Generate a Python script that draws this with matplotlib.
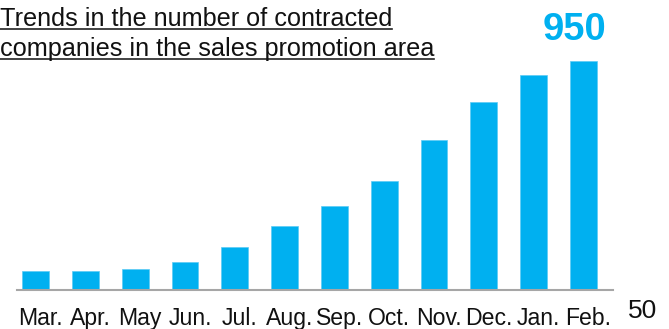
import matplotlib
matplotlib.use("Agg")
import matplotlib.pyplot as plt
import matplotlib.transforms as mtransforms
from matplotlib.lines import Line2D

plt.rcParams['font.family'] = ['Liberation Sans', 'DejaVu Sans']

months = ["Mar.", "Apr.", "May", "Jun.", "Jul.", "Aug.", "Sep.", "Oct.",
          "Nov.", "Dec.", "Jan.", "Feb."]
companies = [80, 80, 85, 115, 180, 265, 350, 450, 620, 780, 890, 950]

title_lines = ["Trends in the number of contracted",
               "companies in the sales promotion area"]
page_number = "50"

BAR_COLOR = "#00B0F0"
W, H = 669, 329

fig = plt.figure(figsize=(W / 100, H / 100), dpi=100)
ax = fig.add_axes([16.7 / W, (H - 290) / H, (613.3 - 16.7) / W, 241.4 / H])

x = list(range(len(months)))
ax.bar(x, companies, width=0.536, color=BAR_COLOR,
       edgecolor="#5ccbf5", linewidth=0.5)

ax.set_xlim(-0.38, 11.60)
ax.set_ylim(0, 1000)

for side in ["left", "right", "top"]:
    ax.spines[side].set_visible(False)
ax.spines["bottom"].set_color("#a6a6a6")
ax.spines["bottom"].set_linewidth(1.5)
ax.set_yticks([])
ax.set_xticks(x)
ax.set_xticklabels(months, fontsize=16.6, color="#111111")
ax.tick_params(axis="x", length=0, pad=12.5)
# month labels sit a little right of the bar centres
shift = mtransforms.ScaledTranslation(5 / 100, 0, fig.dpi_scale_trans)
for lbl in ax.get_xticklabels():
    lbl.set_transform(lbl.get_transform() + shift)

# highlight the latest value
ax.annotate(str(companies[-1]), xy=(x[-1], companies[-1]),
            xytext=(-6.3, 14.9), textcoords="offset points",
            ha="center", va="baseline", fontsize=27.5, fontweight="bold",
            color=BAR_COLOR, annotation_clip=False)

# underlined two-line heading
renderer = fig.canvas.get_renderer()
for i, line in enumerate(title_lines):
    base_px = 26 + 30 * i
    t = fig.text(0.0, (H - base_px) / H, line, fontsize=18.2, color="#111111",
                 ha="left", va="baseline")
    bb = t.get_window_extent(renderer)
    uy = (H - base_px - 3.3) / H
    fig.add_artist(Line2D([bb.x0 / W, bb.x1 / W], [uy, uy],
                          transform=fig.transFigure, color="#222222",
                          linewidth=1.2))

fig.text(628 / W, (H - 318) / H, page_number, fontsize=19, color="#111111",
         ha="left", va="baseline")

fig.savefig("out.png", dpi=100)
